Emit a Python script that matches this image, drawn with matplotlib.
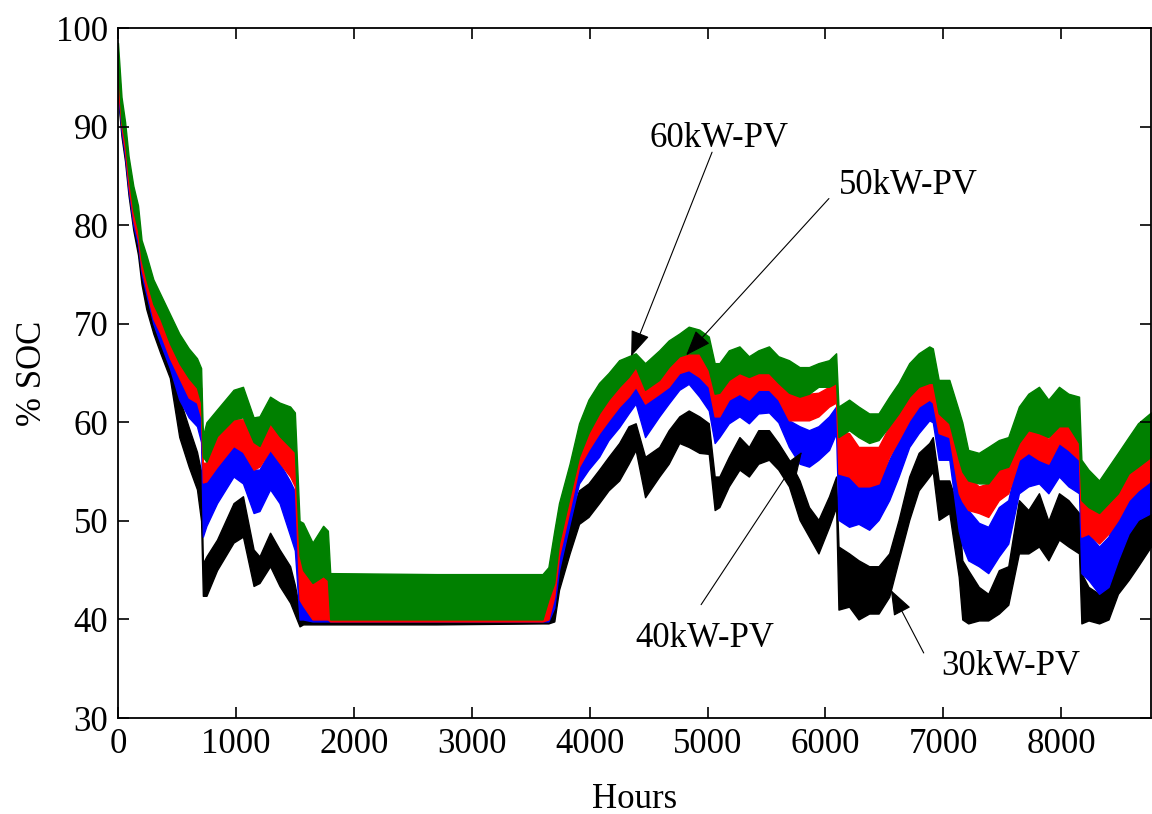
import numpy as np
import matplotlib
matplotlib.use("Agg")
import matplotlib.pyplot as plt

plt.rcParams['font.family'] = ['Liberation Serif', 'DejaVu Serif']

hours = [0, 30, 60, 90, 130, 170, 200, 240, 300, 360,
         440, 520, 600, 670, 705, 720, 750, 840, 980, 1060,
         1150, 1200, 1290, 1370, 1460, 1500, 1540, 1570, 1650, 1740,
         1780, 1800, 2700, 3600, 3650, 3700, 3740, 3830, 3910, 3990,
         4080, 4160, 4250, 4330, 4390, 4470, 4590, 4670, 4760, 4840,
         4930, 5010, 5060, 5100, 5180, 5270, 5350, 5430, 5520, 5600,
         5690, 5780, 5860, 5940, 6030, 6090, 6110, 6200, 6280, 6370,
         6450, 6540, 6620, 6710, 6790, 6880, 6910, 6960, 7050, 7130,
         7160, 7210, 7300, 7380, 7470, 7550, 7640, 7720, 7810, 7890,
         7980, 8060, 8150, 8170, 8230, 8320, 8400, 8480, 8570, 8650,
         8760]

# 60kW-PV (green)
soc60_hi = [98.5, 93, 90.5, 87, 84, 82, 78.5, 77, 74.5, 73,
            71, 69, 67.5, 66.5, 65.5, 58.6, 60, 61.3, 63.3, 63.6,
            60.5, 60.6, 62.6, 62, 61.6, 61, 50, 49.8, 47.8, 49.5,
            49, 44.7, 44.6, 44.6, 45.3, 49, 51.8, 55.8, 59.9, 62.3,
            64, 65, 66.3, 66.7, 67, 66, 67.3, 68.3, 69, 69.7,
            69.4, 68.7, 66, 66, 67.3, 67.7, 66.7, 67.3, 67.7, 66.7,
            66.3, 65.6, 65.6, 66, 66.3, 67, 61.6, 62.3, 61.6, 60.9,
            60.9, 62.6, 64, 66, 67, 67.7, 67.5, 64.3, 64.3, 61.2,
            60, 57.2, 56.9, 57.5, 58.2, 58.5, 61.6, 62.9, 63.6, 62.3,
            63.6, 62.9, 62.6, 56.2, 55.2, 54.1, 55.5, 56.9, 58.5, 59.9,
            61]
soc60_lo = [96, 90.5, 88.5, 85, 81.5, 79.5, 76.5, 74.5, 72, 70.5,
            68, 66, 64.5, 63.5, 62, 56.5, 56, 58.6, 60.3, 60.5,
            58, 57.6, 59.9, 58.6, 57.5, 57, 46.5, 45, 43.7, 44.4,
            44, 40, 40, 40, 42, 43.7, 47.7, 52.4, 56.5, 58.9,
            60.9, 62.3, 63.6, 64.6, 65.6, 63.3, 64.3, 65.6, 66.7, 67,
            67, 65.3, 62.9, 63, 64.3, 65, 64.6, 65, 65, 64,
            63, 62.6, 62.9, 63.6, 63.6, 64, 58.5, 59.2, 58.5, 57.9,
            58.2, 59.6, 60.9, 62.6, 63.6, 64, 64, 60.9, 59.9, 56.2,
            55, 54.1, 53.8, 53.8, 55.2, 55.5, 57.9, 59.2, 58.9, 58.5,
            59.6, 59.6, 57.9, 52.1, 51.4, 50.8, 51.8, 52.8, 54.8, 55.5,
            56.5]

# 50kW-PV (red)
soc50_hi = [97, 92, 89, 85.5, 82.5, 80.5, 77, 75.5, 73, 71,
            68.7, 67, 65.5, 64.3, 63.5, 55.9, 55.9, 58.6, 60.3, 60.3,
            58.6, 57.6, 59.9, 58.6, 57.5, 57, 46.4, 46.4, 43.7, 45,
            44.5, 41, 41, 41, 43.5, 44.7, 48.4, 53.1, 58.2, 59.2,
            60.9, 62.3, 63.6, 65, 66.3, 63.6, 65, 66, 67, 67.3,
            67, 65.6, 63.3, 63.3, 65, 65.3, 65, 65.3, 65, 64.6,
            63, 62.6, 62.9, 63, 63.6, 64, 59.2, 58.9, 57.5, 57.5,
            57.5, 59.6, 61.2, 63, 63.6, 64.6, 64.5, 60.9, 61.2, 57.5,
            56, 54.5, 53.5, 53.8, 55.5, 55.8, 59.9, 59.6, 60.6, 58.2,
            60.6, 59.9, 59.6, 52.5, 51.8, 51.1, 52.1, 53.5, 55.2, 56.5,
            57.9]
soc50_lo = [94, 90, 87.5, 84, 80.5, 78.5, 75.5, 73.5, 70.5, 69,
            66.5, 64.5, 62.5, 62, 60.5, 53.9, 54, 55.5, 57.6, 57,
            55.2, 55.5, 57.2, 55.9, 54.5, 53.5, 42, 41.4, 40, 40,
            40, 39.8, 39.8, 39.8, 40, 42.3, 46.4, 51.1, 55.5, 57.2,
            58.9, 60.2, 61.6, 62.6, 63.6, 61.9, 62.9, 63.6, 65, 65.3,
            64.6, 63.6, 60.6, 60.6, 62.3, 62.9, 62.3, 63.3, 63.3, 62.3,
            60.2, 60.2, 60.2, 60.6, 61.6, 62, 54.8, 54.5, 53.5, 53.5,
            53.8, 56.5, 58.2, 60.2, 61.6, 62.3, 62, 58.9, 58.5, 52.8,
            52, 51.1, 50.8, 50.4, 52.1, 52.8, 56.2, 56.9, 56.2, 55.8,
            57.9, 57.2, 56.2, 48.4, 48.7, 47.7, 48.7, 50.1, 52.1, 53.1,
            54.1]

# 40kW-PV (blue)
soc40_hi = [96, 91.5, 88.5, 85, 81.5, 79.5, 76.5, 74.5, 72, 70,
            67.7, 64.7, 63, 62, 61, 53.9, 54.2, 55.9, 57.9, 58.2,
            55.2, 55.2, 57.2, 55.9, 54, 53, 42.4, 42.4, 41, 42,
            41, 40.5, 40.5, 40.5, 41.5, 43, 47.7, 52.4, 56.5, 57.5,
            59.2, 60.6, 61.9, 63.3, 65, 62.3, 63.3, 64.3, 65.6, 66,
            65.3, 63.9, 62.3, 62, 62.6, 63.3, 62.9, 63.6, 63.5, 62.8,
            60.2, 59.6, 59.2, 59.6, 60.6, 61.6, 55.8, 54.8, 54.1, 54.1,
            53.8, 56.2, 58.2, 60.6, 61.9, 62.6, 62.5, 59.2, 59.6, 55,
            53, 51.1, 49.8, 49.4, 51.4, 52.1, 56.9, 57.2, 57.5, 56.9,
            58.2, 57.9, 56.2, 50.4, 48.7, 47.4, 48.4, 51.1, 52.8, 54.8,
            55.2]
soc40_lo = [93.5, 89.5, 87, 83.5, 80, 78, 75, 73, 70, 68,
            65.5, 62.3, 60.5, 59.6, 58, 48.4, 49.5, 51.8, 54.5, 53.8,
            50.8, 51, 53.2, 51.8, 48.5, 47, 40, 40, 39.8, 39.8,
            39.8, 39.8, 39.8, 39.8, 39.8, 41.2, 45, 49.7, 53.8, 55.2,
            56.5, 58.2, 59.5, 60.9, 61.9, 58.5, 60.6, 61.9, 63.3, 63.9,
            62.6, 61.2, 57.9, 58.5, 59.9, 60.6, 59.9, 60.9, 61, 60,
            57.5, 55.8, 55.5, 56.2, 57.2, 58.9, 50.1, 49.4, 49.7, 49.1,
            50.1, 52.1, 54.5, 57.5, 58.9, 60.2, 60, 56.2, 56.2, 49,
            47.5, 46, 45.4, 44.7, 46.4, 47.7, 52.8, 53.5, 53.8, 52.8,
            54.5, 53.5, 52.8, 44.7, 44, 42.6, 43.3, 46, 48.7, 50.1,
            50.8]

# 30kW-PV (black)
soc30_hi = [95, 91, 88, 84.5, 81, 79, 76, 73.5, 71.5, 69,
            66.5, 62.5, 59.5, 57, 55, 45.7, 46.4, 48.1, 51.8, 52.5,
            47.1, 46.4, 48.8, 47.1, 45.4, 43.5, 41, 40.5, 41.5, 41.5,
            40.5, 40.5, 40.5, 40.3, 40.5, 43, 46.4, 50.4, 53.1, 53.8,
            55.2, 56.5, 57.9, 59.6, 59.9, 56.5, 57.5, 59.2, 60.6, 61.2,
            60.6, 59.9, 54.5, 54.5, 56.5, 58.5, 57.5, 59.2, 59.2, 57.9,
            56.2, 54.1, 51.4, 50.1, 52.5, 54.5, 47.4, 46.7, 46, 45.4,
            45.4, 46.7, 50.1, 54.5, 56.9, 57.9, 58.5, 54.1, 54.1, 51.1,
            46, 45, 43.3, 42.6, 45, 45.4, 52.1, 51.1, 52.8, 50,
            52.8, 52.1, 50.8, 44.7, 43.3, 42.6, 44.3, 47.4, 48.7, 50.1,
            51.4]
soc30_lo = [93, 89, 86.5, 83, 79.5, 77, 74, 71.5, 69, 67,
            64.5, 58.5, 55.5, 53.2, 50, 42.4, 42.4, 45, 47.8, 48.4,
            43.4, 43.7, 45.4, 43.4, 41.7, 40.5, 39.3, 39.5, 39.5, 39.5,
            39.5, 39.5, 39.5, 39.6, 39.6, 39.8, 43, 46.7, 49.7, 50.4,
            51.8, 53.1, 54.1, 55.8, 57.2, 52.4, 54.5, 55.8, 57.9, 57.5,
            56.9, 56.8, 51.1, 51.4, 53.5, 55.2, 54.5, 55.8, 56.2, 55.2,
            53.5, 50.1, 48.4, 46.7, 49.4, 51.4, 41, 41.3, 40, 40.6,
            40.6, 42.3, 46, 50.1, 53.1, 54.5, 55, 50.1, 50.8, 44.3,
            40, 39.6, 39.9, 39.9, 40.6, 41.5, 46.7, 46.7, 47.4, 46,
            48.1, 47.4, 46.7, 39.6, 39.9, 39.6, 40, 42.6, 44, 45.4,
            47.4]

labels = ['30kW-PV', '40kW-PV', '50kW-PV', '60kW-PV']
colors = ['black', '#0000ff', '#ff0000', '#008000']

fig = plt.figure(figsize=(11.52, 8.14), dpi=100)
ax = fig.add_axes([0.1024, 0.1179, 0.8967, 0.8477])

bands = [(soc30_lo, soc30_hi), (soc40_lo, soc40_hi),
         (soc50_lo, soc50_hi), (soc60_lo, soc60_hi)]
for (lo, hi), c in zip(bands, colors):
    ax.fill_between(hours, lo, hi, color=c, lw=1.0, edgecolor=c)

ax.set_xlim(0, 8760)
ax.set_ylim(30, 100)
ax.set_xticks(range(0, 9000, 1000))
ax.set_yticks(range(30, 101, 10))
ax.tick_params(direction='in', length=8, width=1.2, labelsize=25,
               top=True, right=True, pad=7)
for s in ax.spines.values():
    s.set_linewidth(1.3)

ax.set_xlabel('Hours', fontsize=25, labelpad=16)
ax.set_ylabel('% SOC', fontsize=25, labelpad=5)

# annotations: (label, text pos, arrow start, arrow tip)
notes = [
    ('60kW-PV', (5097, 88.8), (5038, 87.4), (4352, 66.7)),
    ('50kW-PV', (6706, 84.0), (6029, 82.7), (4818, 66.8)),
    ('40kW-PV', (4979, 38.1), (4945, 41.5), (5800, 57.0)),
    ('30kW-PV', (7570, 35.2), (6833, 36.6), (6554, 43.0)),
]
for txt, tpos, start, tip in notes:
    ax.text(tpos[0], tpos[1], txt, fontsize=25, ha='center', va='center')
    ax.annotate('', xy=tip, xytext=start,
                arrowprops=dict(arrowstyle='-|>,head_length=0.8,head_width=0.3',
                                color='black', lw=0.8, mutation_scale=20,
                                shrinkA=0, shrinkB=0))

fig.savefig('out.png', dpi=100)
